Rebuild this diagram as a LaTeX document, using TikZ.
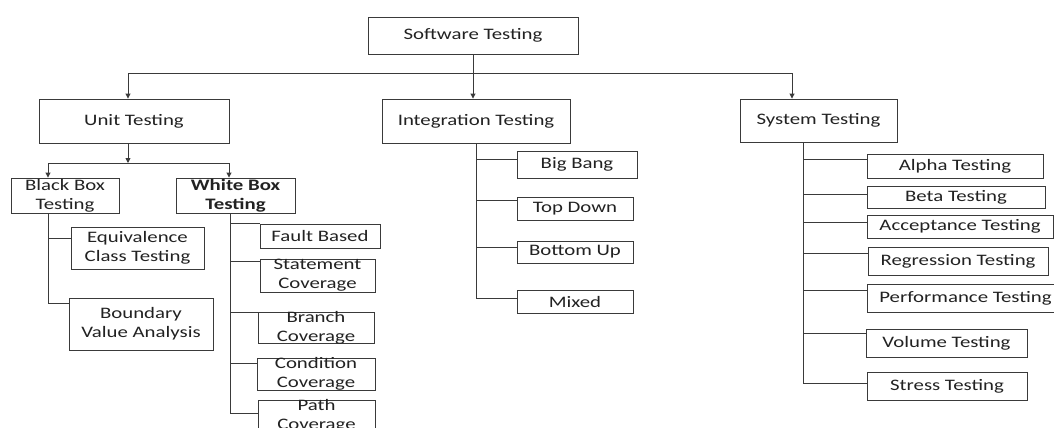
\documentclass[tikz,border=0pt]{standalone}
\usepackage{fontspec}
\setmainfont{Carlito}[FakeStretch=1.3]
\usetikzlibrary{arrows.meta}
\definecolor{ink}{HTML}{222222}
\definecolor{edge}{HTML}{3A3A3A}
\tikzset{
  box/.style={draw=edge, line width=0.9pt, fill=white, inner sep=0pt},
  lbl/.style={text=ink, align=center, inner sep=0pt, font=\fontsize{16}{19}\selectfont},
  ln/.style={draw=edge, line width=0.9pt},
  arr/.style={ln, -{Triangle[length=5pt,width=5pt]}},
}
% \bx{name}{cx}{cy}{w}{h}{text}
\newcommand{\bx}[6]{%
  \node[box, minimum width=#4pt, minimum height=#5pt,
        label={[lbl]center:#6}] (#1) at (#2,#3) {};}
\begin{document}
\begin{tikzpicture}[x=1pt, y=-1pt]
\useasboundingbox (0,0) rectangle (1054,428);
\clip (0,0) rectangle (1054,428);

% root and first level
\bx{top}{473}{35.5}{210}{37}{Software Testing}
\bx{unit}{134}{121}{190}{44}{Unit Testing}
\bx{integ}{476}{121}{188}{44}{Integration Testing}
\bx{sys}{818.5}{120.5}{157}{43}{System Testing}

% unit testing branch
\bx{black}{65}{195.5}{108}{35}{Black Box\\Testing}
\bx{white}{235.5}{195.5}{119}{35}{\bfseries White Box\\\bfseries Testing}
\bx{equiv}{137.5}{248}{133}{42}{Equivalence\\Class Testing}
\bx{bound}{141}{324}{144}{52}{Boundary\\Value Analysis}
\bx{fault}{320}{236}{120}{24}{Fault Based}
\bx{stmt}{317.5}{275.5}{115}{33}{Statement\\Coverage}
\bx{brch}{316}{327.5}{116}{31}{Branch\\Coverage}
\bx{cond}{316}{374}{118}{32}{Condition\\Coverage}
\bx{path}{316.5}{416}{117}{32}{Path\\Coverage}

% integration testing branch
\bx{bigb}{577}{164.5}{120}{27}{Big Bang}
\bx{topd}{575}{208.5}{116}{23}{Top Down}
\bx{botu}{575}{252}{116}{22}{Bottom Up}
\bx{mixd}{575}{301.5}{116}{23}{Mixed}

% system testing branch
\bx{alpha}{955}{166}{176}{24}{Alpha Testing}
\bx{beta}{956}{197}{178}{22}{Beta Testing}
\bx{accp}{960}{226.5}{186}{23}{Acceptance Testing}
\bx{regr}{958}{261}{180}{28}{Regression Testing}
\bx{perf}{965.5}{298}{196}{28}{Performance Testing}
\bx{volu}{946.5}{343}{161}{28}{Volume Testing}
\bx{strs}{947}{386}{160}{28}{Stress Testing}

% root fan-out
\coordinate (j0) at (473,73);
\draw[ln] (top.south) -- (j0);
\draw[arr] (j0) -- (j0 |- integ.north);
\draw[arr] (j0) -| ([xshift=-6pt]unit.north);
\draw[arr] (j0) -| ([xshift=-26.5pt]sys.north);

% unit testing fan-out
\coordinate (j1) at (128,163);
\draw[arr] ([xshift=-6pt]unit.south) -- (j1);
\draw[arr] (j1) -| ([xshift=-17pt]black.north);
\draw[arr] (j1) -| ([xshift=-6.5pt]white.north);

% black box spine
\draw[ln] ([xshift=-17pt]black.south) |- ([yshift=10pt]equiv.west);
\draw[ln] ([xshift=-17pt]black.south) |- ([yshift=21pt]bound.west);

% white box spine
\draw[ln] ([xshift=-5.5pt]white.south) |- ([yshift=13pt]fault.west);
\draw[ln] ([xshift=-5.5pt]white.south) |- ([yshift=14.5pt]stmt.west);
\draw[ln] ([xshift=-5.5pt]white.south) |- ([yshift=15.5pt]brch.west);
\draw[ln] ([xshift=-5.5pt]white.south) |- ([yshift=11pt]cond.west);
\draw[ln] ([xshift=-5.5pt]white.south) |- ([yshift=3pt]path.west);

% integration spine
\draw[ln] (integ.south) |- ([yshift=5.5pt]bigb.west);
\draw[ln] (integ.south) |- ([yshift=8.5pt]topd.west);
\draw[ln] (integ.south) |- ([yshift=5pt]botu.west);
\draw[ln] (integ.south) |- ([yshift=3.5pt]mixd.west);

% system spine
\draw[ln] ([xshift=-15.5pt]sys.south) |- ([yshift=7pt]alpha.west);
\draw[ln] ([xshift=-15.5pt]sys.south) |- ([yshift=3pt]beta.west);
\draw[ln] ([xshift=-15.5pt]sys.south) |- ([yshift=4.5pt]accp.west);
\draw[ln] ([xshift=-15.5pt]sys.south) |- ([yshift=8pt]regr.west);
\draw[ln] ([xshift=-15.5pt]sys.south) |- ([yshift=8pt]perf.west);
\draw[ln] ([xshift=-15.5pt]sys.south) |- ([yshift=10pt]volu.west);
\draw[ln] ([xshift=-15.5pt]sys.south) |- ([yshift=3pt]strs.west);
\end{tikzpicture}
\end{document}
